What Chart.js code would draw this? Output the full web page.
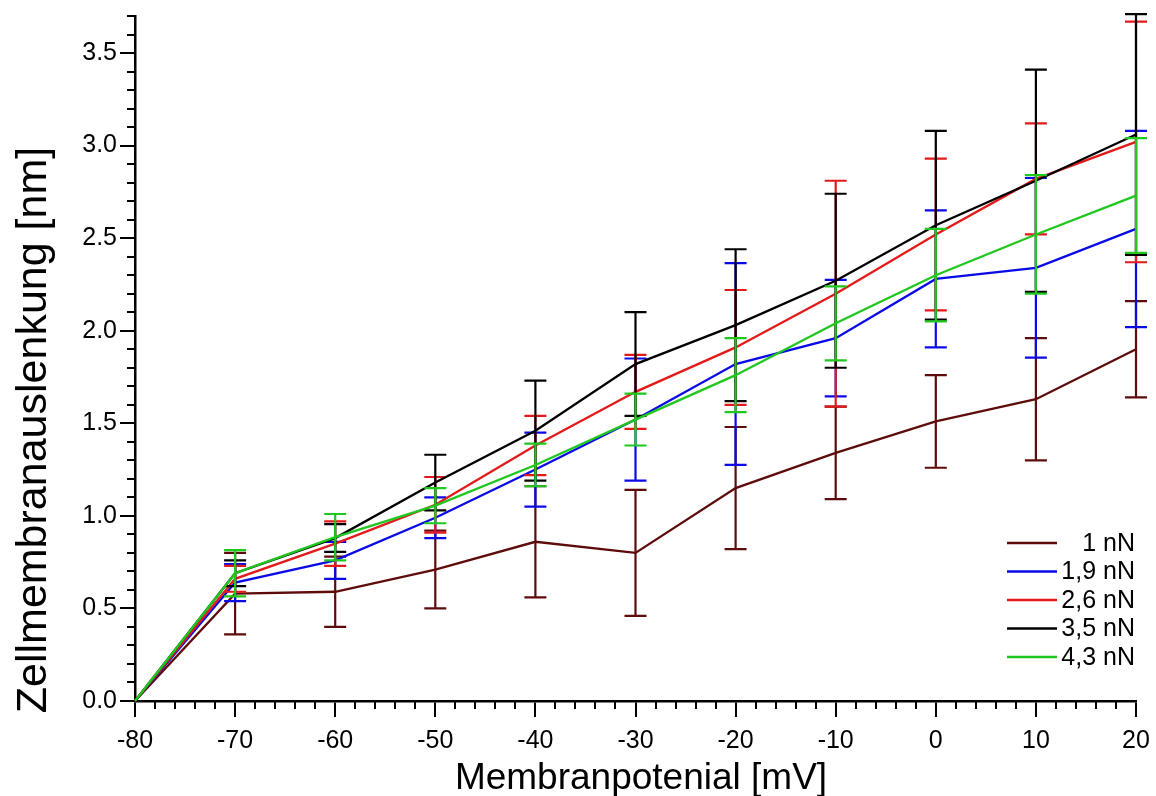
<!DOCTYPE html>
<html>
<head>
<meta charset="utf-8">
<script src="https://cdn.jsdelivr.net/npm/chart.js@4.4.1/dist/chart.umd.min.js"></script>
<style>
  html, body { margin: 0; padding: 0; background: #ffffff; }
  #wrap { width: 1156px; height: 796px; }
</style>
</head>
<body>
<div id="wrap"><canvas id="c" width="1156" height="796"></canvas></div>
<script>
// Membrane potential steps (mV)
const potentials = [-80, -70, -60, -50, -40, -30, -20, -10, 0, 10, 20];

// Mean membrane deflection (nm) and standard deviation per applied force
const mean1_0 = [0, 0.58, 0.59, 0.71, 0.86, 0.80, 1.15, 1.34, 1.51, 1.63, 1.90];
const sd1_0   = [0, 0.22, 0.19, 0.21, 0.30, 0.34, 0.33, 0.25, 0.25, 0.33, 0.26];

const mean1_9 = [0, 0.64, 0.76, 0.99, 1.25, 1.52, 1.82, 1.96, 2.28, 2.34, 2.55];
const sd1_9   = [0, 0.10, 0.10, 0.11, 0.20, 0.33, 0.545, 0.315, 0.37, 0.485, 0.53];

const mean2_6 = [0, 0.66, 0.85, 1.06, 1.38, 1.67, 1.91, 2.20, 2.52, 2.82, 3.02];
const sd2_6   = [0, 0.07, 0.12, 0.15, 0.16, 0.20, 0.31, 0.61, 0.41, 0.30, 0.65];

const mean3_5 = [0, 0.69, 0.88, 1.18, 1.46, 1.82, 2.03, 2.27, 2.57, 2.81, 3.06];
const sd3_5   = [0, 0.07, 0.075, 0.15, 0.27, 0.28, 0.41, 0.47, 0.51, 0.60, 0.65];

const mean4_3 = [0, 0.69, 0.885, 1.055, 1.275, 1.52, 1.76, 2.04, 2.30, 2.52, 2.73];
const sd4_3   = [0, 0.125, 0.125, 0.095, 0.115, 0.14, 0.20, 0.20, 0.25, 0.32, 0.31];

const seriesLabels = ['1 nN', '1,9 nN', '2,6 nN', '3,5 nN', '4,3 nN'];
const seriesColors = ['#5e0b0b', '#0a0ae6', '#e31a1a', '#000000', '#1fc71f'];
const seriesMeans = [mean1_0, mean1_9, mean2_6, mean3_5, mean4_3];
const seriesSds = [sd1_0, sd1_9, sd2_6, sd3_5, sd4_3];

const xTitle = 'Membranpotenial [mV]';
const yTitle = 'Zellmembranauslenkung [nm]';

const FONT = '"Liberation Sans", Arial, Helvetica, sans-serif';

const datasets = seriesLabels.map((label, k) => ({
  label: label,
  data: potentials.map((x, i) => ({ x: x, y: seriesMeans[k][i] })),
  errors: seriesSds[k],
  borderColor: seriesColors[k],
  backgroundColor: seriesColors[k],
  borderWidth: 2.3,
  pointRadius: 0,
  tension: 0,
  fill: false,
  order: seriesLabels.length - k,
  clip: false
}));

// Vertical error bars with end caps, drawn right after each dataset's line
const errorBars = {
  id: 'errorBars',
  afterDatasetDraw(chart, args) {
    const ds = chart.data.datasets[args.index];
    const xs = chart.scales.x, ys = chart.scales.y;
    const ctx = chart.ctx;
    const cap = 11;
    ctx.save();
    ctx.strokeStyle = ds.borderColor;
    ctx.lineWidth = 2.2;
    ds.data.forEach((p, i) => {
      const e = ds.errors[i];
      if (!e) return;
      const px = xs.getPixelForValue(p.x);
      const yTop = ys.getPixelForValue(p.y + e);
      const yBot = ys.getPixelForValue(p.y - e);
      ctx.beginPath();
      ctx.moveTo(px, yTop); ctx.lineTo(px, yBot);
      ctx.moveTo(px - cap, yTop); ctx.lineTo(px + cap, yTop);
      ctx.moveTo(px - cap, yBot); ctx.lineTo(px + cap, yBot);
      ctx.stroke();
    });
    ctx.restore();
  }
};

// Minor tick marks, axis titles and the legend block
const decorations = {
  id: 'decorations',
  afterDraw(chart) {
    const ctx = chart.ctx;
    const xs = chart.scales.x, ys = chart.scales.y;
    const area = chart.chartArea;
    ctx.save();
    ctx.strokeStyle = '#000';
    ctx.lineWidth = 2;
    ctx.beginPath();
    for (let v = -80; v <= 20; v += 2) {
      if (v % 10 === 0) continue;
      const px = Math.round(xs.getPixelForValue(v));
      ctx.moveTo(px, area.bottom); ctx.lineTo(px, area.bottom + 8);
    }
    for (let k = 1; k <= 37; k++) {
      if (k % 5 === 0) continue;
      const py = Math.round(ys.getPixelForValue(k / 10));
      ctx.moveTo(area.left, py); ctx.lineTo(area.left - 8, py);
    }
    ctx.stroke();

    // axis titles
    ctx.fillStyle = '#000';
    ctx.font = '37px ' + FONT;
    ctx.textAlign = 'center';
    ctx.textBaseline = 'alphabetic';
    ctx.fillText(xTitle, 641, 789);

    ctx.save();
    ctx.translate(46, 430);
    ctx.rotate(-Math.PI / 2);
    ctx.font = '43px ' + FONT;
    ctx.fillText(yTitle, 0, 0);
    ctx.restore();

    // legend
    const rowY = [543, 571.5, 600, 628.5, 657];
    ctx.font = '25px ' + FONT;
    ctx.textAlign = 'right';
    ctx.textBaseline = 'middle';
    chart.data.datasets.forEach((ds, k) => {
      const y = rowY[k];
      ctx.strokeStyle = ds.borderColor;
      ctx.lineWidth = 2.5;
      ctx.beginPath();
      ctx.moveTo(1007, y); ctx.lineTo(1057, y);
      ctx.stroke();
      ctx.fillStyle = '#000';
      ctx.fillText(ds.label, 1135, y + 1);
    });
    ctx.restore();
  }
};

new Chart(document.getElementById('c'), {
  type: 'line',
  data: { datasets: datasets },
  options: {
    responsive: false,
    devicePixelRatio: 1,
    animation: false,
    layout: { padding: { left: 0, top: 16, right: 20, bottom: 0 } },
    plugins: { legend: { display: false }, tooltip: { enabled: false } },
    scales: {
      x: {
        type: 'linear',
        min: -80, max: 20,
        afterFit(s) { s.height = 95; s.paddingLeft = 0; s.paddingRight = 0; },
        border: { display: true, color: '#000', width: 2.5 },
        grid: { drawOnChartArea: false, drawTicks: true, tickLength: 16, lineWidth: 2, color: '#000' },
        ticks: {
          stepSize: 10,
          padding: 9,
          color: '#000',
          font: { family: FONT, size: 25 },
          maxRotation: 0,
          callback: (v) => String(v)
        }
      },
      y: {
        type: 'linear',
        min: 0, max: 3.7,
        afterFit(s) { s.width = 135; s.paddingTop = 0; s.paddingBottom = 0; },
        afterBuildTicks(s) {
          s.ticks = s.ticks.filter(t => Math.abs(t.value * 2 - Math.round(t.value * 2)) < 1e-6);
        },
        border: { display: true, color: '#000', width: 2.5 },
        grid: { drawOnChartArea: false, drawTicks: true, tickLength: 15, lineWidth: 2, color: '#000' },
        ticks: {
          stepSize: 0.5,
          padding: 3,
          color: '#000',
          font: { family: FONT, size: 25 },
          callback: (v) => Number(v).toFixed(1)
        }
      }
    }
  },
  plugins: [errorBars, decorations]
});
</script>
</body>
</html>
